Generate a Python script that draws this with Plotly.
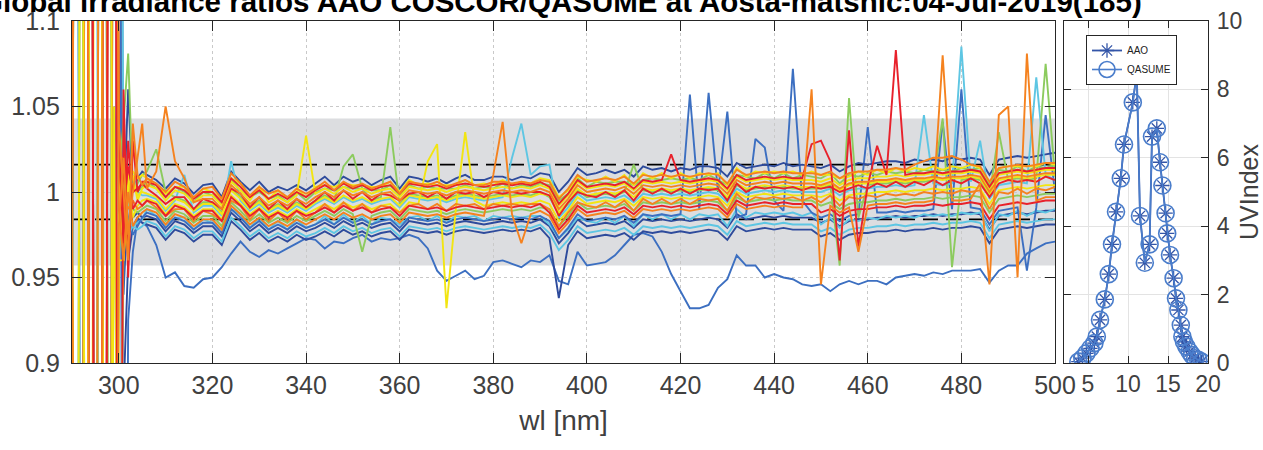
import plotly.graph_objects as go

# ---------------- data ----------------
# wavelength grid [nm]
WL = [290, 291, 292, 293, 294, 295, 296, 297, 298, 299, 300, 301, 302, 303, 304, 305,
      306, 308, 310, 312, 314, 316, 318, 320, 322, 324, 326, 328, 330, 332, 334, 336, 338, 340,
      342, 344, 346, 348, 350, 352, 354, 356, 358, 360, 362, 364, 366, 368, 370, 372, 374, 376,
      378, 380, 382, 384, 386, 388, 390,
      392, 394, 396, 398, 400, 402, 404, 406, 408, 410, 412, 414, 416, 418, 420, 422, 424, 426,
      428, 430, 432, 434, 436, 438, 440, 442, 444, 446, 448,
      450, 452, 454, 456, 458, 460, 462, 464, 466, 468, 470, 472, 474, 476, 478, 480, 482, 484,
      486, 488, 490, 492, 494, 496, 498, 500]

# ratio AAO/QASUME in per-mille (1000 = ratio 1.000), one list per spectrum
r01 = [952, 1600, 400, 400, 1600, 1600, 1600, 400, 400, 1600, 1010, 985, 1060, 1000, 1008, 1012,
       1010, 1007, 1002, 1008, 1005, 999, 1004, 1005, 997, 1012, 1006, 1001, 1006, 1000, 1003, 1001, 1004, 1001,
       1005, 1009, 1004, 1009, 1006, 1008, 1004, 1007, 1009, 1002, 1009, 1008, 1006, 1008, 1005, 1008, 1010, 1007,
       1007, 1009, 1009, 1007, 1009, 1008, 1011,
       1010, 1000, 1006, 1014, 1010, 1011, 1013, 1011, 1013, 1009, 1015, 1013, 1014, 1012, 1014, 1013, 1015, 1015,
       1014, 1009, 1017, 1014, 1015, 1016, 1015, 1017, 1015, 1016, 1015,
       1014, 1016, 1012, 1015, 1017, 1016, 1017, 1018, 1018, 1017, 1019, 1018, 1019, 1018, 1020, 1019, 1020, 1019,
       1010, 1019, 1020, 1021, 1020, 1021, 1022, 1023]
r02 = [975, 400, 400, 400, 400, 400, 1600, 1600, 1600, 1600, 1040, 1000, 960, 1040, 1010, 1004,
       1008, 1005, 1000, 1006, 1003, 997, 1002, 1003, 996, 1011, 1005, 998, 1003, 999, 1001, 997, 1002, 999,
       1002, 1006, 1001, 1006, 1003, 1005, 1002, 1004, 1006, 999, 1006, 1005, 1004, 1006, 1003, 1005, 1007, 1004,
       1004, 1006, 1006, 1005, 1006, 1005, 1007,
       1006, 996, 1002, 1010, 1006, 1007, 1008, 1007, 1009, 1005, 1010, 1009, 1010, 1009, 1010, 1009, 1010, 1011,
       1010, 1005, 1013, 1010, 1011, 1012, 1011, 1012, 1011, 1011, 1011,
       1010, 1012, 1008, 1011, 1012, 1012, 1013, 1013, 1014, 1013, 1016, 1018, 1020, 1020, 1021, 1019, 1016, 1015,
       1006, 1014, 1015, 1016, 1015, 1016, 1017, 1017]
r03 = [1010, 1600, 1600, 1600, 1600, 400, 400, 1600, 1600, 1600, 400, 1060, 950, 1030, 1000, 1006,
       1006, 1004, 997, 1003, 1001, 996, 1000, 1000, 994, 1008, 1003, 997, 1001, 996, 999, 996, 1000, 997,
       1001, 1004, 1001, 1005, 1002, 1004, 1001, 1003, 1004, 999, 1005, 1004, 1003, 1004, 1002, 1004, 1005, 1004,
       1003, 1004, 1005, 1004, 1005, 1004, 1006,
       1003, 993, 999, 1007, 1003, 1004, 1005, 1004, 1006, 1002, 1007, 1006, 1007, 1022, 1007, 1006, 1007, 1008,
       1007, 1002, 1010, 1007, 1008, 1009, 1008, 1009, 1008, 1008, 1028,
       1030, 1018, 960, 1036, 968, 1004, 1027, 1010, 1083, 1010, 1011, 1011, 1012, 1011, 1012, 1012, 1013, 1012,
       1003, 1011, 1012, 1013, 1012, 1013, 1014, 1014]
r04 = [960, 400, 1600, 400, 400, 400, 1600, 1600, 1600, 400, 1020, 960, 1000, 1010, 995, 1002,
       1004, 1002, 995, 1001, 999, 994, 998, 998, 992, 1006, 1001, 995, 1003, 994, 997, 994, 998, 1033,
       999, 1002, 999, 1003, 1000, 1002, 999, 1001, 1002, 997, 1003, 1002, 1001, 1002, 1000, 1002, 1003, 1002,
       1001, 1002, 1003, 1002, 1003, 1002, 1004,
       1002, 992, 998, 1006, 1002, 1003, 1004, 1003, 1005, 1001, 1006, 1005, 1006, 1005, 1006, 1005, 1006, 1007,
       1006, 1001, 1009, 1006, 1007, 1008, 1007, 1008, 1007, 1007, 1007,
       1006, 1008, 1004, 1007, 1008, 1008, 1009, 1009, 1010, 1009, 1010, 1010, 1011, 1010, 1011, 1011, 1012, 1011,
       1002, 1010, 1011, 1012, 1011, 1012, 1013, 1013]
r05 = [940, 1600, 1600, 1600, 400, 400, 400, 400, 400, 400, 980, 1020, 975, 1000, 1020, 1040,
       1002, 1012, 1050, 1018, 1008, 994, 996, 996, 990, 1004, 999, 993, 997, 992, 995, 992, 996, 993,
       997, 1000, 997, 1001, 998, 1000, 997, 999, 1000, 995, 1001, 1000, 999, 1000, 998, 1000, 1001, 1000,
       999, 1000, 1001, 1000, 1001, 1000, 1002,
       1000, 990, 996, 1004, 1000, 1001, 1002, 1001, 1003, 999, 1004, 1003, 1004, 1003, 1004, 1003, 1004, 1005,
       1004, 999, 1007, 1004, 1005, 1006, 1005, 1006, 1005, 1005, 1005,
       1004, 1006, 1002, 1005, 1006, 1006, 1007, 1007, 1008, 1007, 1008, 1008, 1009, 1008, 1009, 1009, 1010, 1009,
       1000, 1008, 1009, 1010, 1009, 1010, 1011, 1011]
r06 = [930, 400, 400, 1600, 1600, 1600, 1600, 400, 1600, 1600, 1010, 1040, 1081, 1000, 1005, 1010,
       1012, 1025, 1000, 997, 995, 990, 994, 994, 988, 1002, 997, 991, 995, 990, 993, 990, 994, 991,
       995, 998, 995, 1015, 1022, 1002, 995, 997, 1038, 993, 999, 998, 997, 998, 996, 998, 999, 998,
       997, 998, 999, 998, 999, 998, 1000,
       997, 987, 993, 1001, 997, 998, 999, 998, 1000, 1016, 1001, 1000, 1001, 1000, 1001, 1000, 1001, 1002,
       1001, 996, 1004, 1001, 1002, 1003, 1002, 1003, 1002, 1002, 1002,
       1002, 1004, 957, 1055, 985, 1004, 1005, 1005, 1006, 1005, 1006, 1006, 1007, 1043, 956, 1007, 1008, 1007,
       998, 1035, 1007, 1008, 1007, 1008, 1075, 1009]
r07 = [1043, 400, 1600, 1600, 1600, 1600, 400, 400, 400, 400, 1600, 1000, 990, 1010, 1000, 998,
       998, 996, 989, 995, 1010, 988, 992, 992, 986, 1018, 995, 989, 993, 988, 991, 988, 992, 989,
       993, 996, 993, 997, 994, 996, 993, 995, 996, 991, 997, 996, 995, 996, 994, 996, 997, 996,
       995, 996, 997, 1020, 1040, 1010, 1015,
       1016, 985, 991, 999, 995, 996, 997, 996, 998, 994, 999, 998, 999, 998, 999, 998, 999, 1000,
       999, 994, 1002, 999, 1000, 1001, 1000, 1001, 1000, 1000, 1000,
       1000, 1002, 998, 1001, 1002, 1002, 1003, 1003, 1004, 1003, 1004, 1045, 1005, 1004, 1005, 1085, 1006, 1030,
       996, 1004, 1005, 1006, 1005, 1067, 1010, 1007]
r08 = [970, 400, 400, 400, 1600, 1600, 1600, 400, 400, 400, 960, 960, 1010, 985, 992, 995,
       996, 994, 987, 993, 991, 986, 990, 990, 984, 998, 993, 987, 991, 986, 989, 986, 990, 987,
       990, 993, 990, 994, 991, 993, 990, 992, 993, 988, 994, 993, 1018, 1028, 932, 990, 1035, 995,
       992, 993, 994, 993, 994, 993, 995,
       993, 983, 989, 997, 993, 994, 995, 994, 996, 992, 997, 996, 997, 996, 997, 996, 997, 998,
       997, 992, 1000, 997, 998, 999, 998, 999, 998, 998, 998,
       997, 999, 995, 998, 999, 999, 1000, 1000, 1001, 1000, 1001, 1001, 1002, 1001, 1002, 1002, 1003, 1002,
       993, 1001, 1002, 1003, 1002, 1003, 1004, 1004]
r09 = [1000, 1600, 1600, 1600, 1600, 400, 400, 400, 1600, 1600, 1030, 970, 1030, 990, 995, 992,
       995, 993, 986, 992, 990, 985, 989, 989, 983, 997, 992, 986, 990, 985, 988, 985, 989, 986,
       988, 991, 988, 992, 989, 991, 988, 990, 991, 986, 992, 991, 990, 991, 989, 991, 992, 991,
       990, 991, 992, 991, 992, 991, 993,
       988, 978, 984, 992, 988, 989, 990, 989, 991, 987, 992, 991, 992, 991, 992, 991, 992, 993,
       992, 987, 995, 992, 993, 994, 993, 994, 993, 993, 993,
       988, 990, 986, 989, 990, 990, 991, 991, 992, 991, 992, 992, 993, 992, 993, 993, 994, 993,
       984, 992, 993, 994, 993, 994, 995, 995]
r10 = [925, 1600, 1600, 400, 1600, 1600, 1600, 1600, 1600, 400, 960, 1010, 980, 990, 988, 990,
       992, 990, 983, 989, 987, 982, 986, 986, 980, 994, 989, 983, 987, 982, 985, 982, 986, 983,
       986, 989, 986, 990, 987, 965, 986, 988, 989, 984, 990, 989, 988, 989, 987, 989, 990, 989,
       988, 989, 990, 989, 990, 989, 991,
       990, 980, 986, 994, 990, 991, 992, 991, 993, 989, 994, 993, 994, 993, 994, 993, 994, 995,
       994, 989, 997, 994, 995, 996, 995, 996, 995, 995, 995,
       992, 994, 990, 993, 994, 994, 995, 995, 996, 995, 996, 996, 997, 996, 997, 997, 998, 997,
       988, 996, 997, 998, 997, 998, 999, 999]
r11 = [985, 400, 400, 400, 400, 400, 400, 1600, 1600, 1600, 990, 960, 1000, 980, 985, 988,
       990, 988, 981, 987, 985, 980, 984, 984, 978, 992, 987, 981, 985, 980, 983, 980, 984, 981,
       984, 987, 984, 988, 985, 987, 984, 986, 987, 982, 988, 987, 986, 987, 985, 987, 988, 987,
       986, 1010, 1041, 987, 970, 987, 989,
       986, 976, 982, 990, 986, 987, 988, 987, 989, 985, 990, 989, 990, 989, 990, 989, 990, 991,
       990, 985, 993, 990, 991, 992, 991, 992, 991, 991, 1060,
       946, 992, 988, 991, 965, 992, 993, 993, 994, 993, 994, 994, 995, 1080, 995, 995, 996, 1005,
       946, 1045, 1050, 950, 1081, 995, 997, 997]
r12 = [900, 400, 400, 400, 1600, 1600, 1600, 1600, 400, 1050, 1000, 1000, 985, 975, 980, 985,
       988, 986, 979, 985, 983, 978, 982, 982, 976, 990, 985, 979, 983, 978, 981, 978, 982, 979,
       981, 984, 981, 985, 982, 984, 981, 983, 984, 979, 985, 984, 983, 984, 982, 984, 985, 984,
       983, 984, 985, 984, 985, 984, 986,
       983, 973, 979, 987, 983, 984, 985, 984, 986, 982, 987, 986, 987, 986, 987, 1057, 990, 1058,
       1000, 1047, 985, 987, 1031, 1026, 995, 989, 1072, 995, 988,
       985, 987, 983, 986, 987, 1038, 988, 988, 989, 988, 989, 989, 990, 1041, 990, 1060, 991, 990,
       981, 989, 990, 991, 954, 991, 1045, 1000]
r13 = [960, 400, 400, 1600, 1600, 400, 400, 400, 400, 400, 1600, 940, 1000, 985, 988, 985,
       986, 984, 977, 983, 981, 976, 980, 980, 974, 988, 983, 977, 981, 976, 979, 976, 980, 977,
       979, 982, 979, 983, 980, 982, 979, 981, 982, 977, 983, 982, 981, 982, 980, 982, 983, 982,
       981, 982, 983, 982, 983, 982, 984,
       980, 970, 976, 984, 980, 981, 982, 981, 983, 979, 984, 983, 984, 983, 984, 983, 984, 985,
       984, 979, 987, 984, 985, 986, 985, 986, 985, 985, 985,
       982, 984, 980, 983, 984, 984, 985, 985, 986, 985, 986, 986, 987, 986, 987, 987, 988, 987,
       978, 986, 987, 988, 987, 988, 989, 989]
r14 = [1020, 1600, 400, 400, 400, 400, 400, 1600, 400, 400, 990, 990, 975, 980, 978, 980,
       983, 981, 974, 980, 978, 973, 977, 977, 971, 985, 980, 974, 978, 973, 976, 973, 977, 974,
       976, 979, 976, 980, 977, 979, 976, 978, 979, 974, 980, 979, 978, 979, 977, 979, 980, 979,
       978, 979, 980, 979, 980, 979, 981,
       976, 966, 972, 980, 976, 977, 978, 977, 979, 975, 980, 979, 980, 979, 980, 979, 980, 981,
       980, 975, 983, 980, 981, 982, 981, 982, 981, 981, 981,
       977, 979, 975, 978, 979, 979, 980, 980, 981, 980, 981, 981, 982, 981, 982, 982, 983, 982,
       973, 981, 982, 983, 982, 983, 984, 984]
r15 = [950, 1600, 1600, 1600, 400, 400, 1600, 1600, 1600, 400, 700, 880, 960, 980, 985, 982,
       981, 979, 972, 978, 976, 971, 975, 975, 969, 983, 978, 972, 976, 971, 974, 971, 975, 972,
       974, 977, 974, 978, 975, 977, 974, 976, 977, 972, 978, 977, 976, 977, 975, 977, 978, 977,
       976, 977, 978, 977, 978, 977, 979,
       973, 938, 969, 977, 973, 974, 975, 974, 976, 972, 977, 976, 977, 976, 977, 976, 977, 978,
       977, 972, 980, 977, 978, 979, 978, 979, 978, 978, 978,
       974, 976, 972, 975, 976, 976, 977, 977, 978, 977, 978, 978, 979, 978, 979, 979, 980, 979,
       970, 978, 979, 980, 979, 980, 981, 981]
r16 = [990, 400, 400, 400, 400, 1600, 1600, 400, 400, 1050, 700, 980, 1000, 1005, 998, 1000,
       999, 997, 990, 996, 994, 989, 993, 993, 987, 1001, 996, 990, 994, 989, 992, 989, 993, 990,
       994, 997, 994, 998, 995, 997, 994, 996, 997, 992, 998, 997, 996, 997, 995, 997, 998, 997,
       996, 997, 998, 997, 998, 997, 999,
       998, 988, 994, 1002, 998, 999, 1000, 999, 1001, 997, 1002, 1001, 1002, 1001, 1002, 1001, 1002, 1003,
       1002, 997, 1005, 1002, 1003, 1004, 1003, 1004, 1003, 1003, 1003,
       1003, 1005, 1001, 1004, 1005, 1005, 1006, 1006, 1007, 1006, 1007, 1007, 1008, 1007, 1008, 1008, 1009, 1008,
       999, 1007, 1008, 1009, 1008, 1009, 1010, 1010]
r17 = [940, 1600, 1600, 400, 400, 400, 1600, 1600, 1600, 1600, 1600, 400, 925, 965, 984, 982,
       980, 969, 950, 953, 945, 944, 949, 950, 956, 964, 971, 965, 962, 966, 964, 967, 970, 973,
       972, 967, 971, 970, 973, 975, 971, 973, 972, 973, 975, 973, 967, 954, 948, 951, 954, 949,
       951, 959, 960, 958, 956, 960, 959,
       963, 948, 946, 965, 957, 958, 959, 963, 969, 975, 976, 974, 965, 952, 942, 932, 932, 934,
       944, 949, 963, 957, 957, 950, 952, 950, 949, 946, 945,
       946, 942, 946, 948, 946, 948, 948, 946, 950, 951, 952, 951, 953, 952, 954, 954, 954, 955,
       947, 954, 957, 957, 964, 967, 970, 971]
r18 = [960, 400, 1600, 1600, 1600, 400, 400, 400, 400, 1600, 1030, 1010, 1010, 1005, 1000, 1003,
       1006, 1002, 997, 1003, 1000, 994, 1000, 998, 993, 1007, 1001, 997, 1000, 996, 998, 994, 1000, 995,
       1000, 1002, 1001, 1003, 1002, 1002, 1001, 1001, 1004, 998, 1004, 1002, 1003, 1002, 1002, 1002, 1004, 1002,
       1003, 1002, 1005, 1002, 1004, 1003, 1005,
       1004, 995, 999, 1008, 1003, 1006, 1005, 1006, 1006, 1004, 1007, 1008, 1007, 1008, 1007, 1008, 1007, 1010,
       1007, 1004, 1010, 1009, 1008, 1011, 1008, 1011, 1008, 1010, 1009,
       1008, 1011, 1005, 1010, 1009, 1011, 1010, 1012, 1011, 1012, 1011, 1013, 1012, 1013, 1012, 1014, 1013, 1014,
       1004, 1013, 1012, 1015, 1012, 1015, 1014, 1016]
r19 = [1005, 1600, 1600, 1600, 400, 400, 400, 400, 1600, 1600, 1015, 990, 1015, 1000, 1002, 1005,
       1002, 998, 993, 997, 997, 990, 996, 994, 990, 1002, 999, 991, 997, 990, 995, 990, 996, 991,
       995, 1000, 995, 1001, 996, 1000, 995, 999, 998, 995, 999, 1000, 997, 1000, 996, 1000, 999, 1000,
       997, 1000, 999, 1000, 999, 1000, 1000,
       998, 986, 994, 1000, 998, 997, 1000, 997, 1001, 995, 1002, 999, 1002, 999, 1002, 999, 1002, 1001,
       1002, 995, 1005, 1000, 1003, 1002, 1003, 1002, 1003, 1001, 1003,
       1002, 1003, 1000, 1002, 1004, 1002, 1005, 1003, 1006, 1003, 1006, 1004, 1007, 1004, 1007, 1005, 1008, 1005,
       997, 1005, 1007, 1006, 1007, 1006, 1009, 1007]
r20 = [945, 400, 400, 1600, 1600, 1600, 1600, 400, 400, 1600, 1000, 1000, 990, 995, 990, 992,
       995, 991, 986, 990, 990, 983, 989, 987, 983, 995, 992, 984, 990, 983, 988, 983, 989, 984,
       988, 993, 988, 994, 989, 993, 988, 992, 991, 988, 992, 993, 990, 993, 989, 993, 992, 993,
       990, 993, 992, 993, 992, 993, 993,
       990, 980, 988, 994, 992, 991, 994, 991, 995, 989, 996, 993, 996, 993, 996, 993, 996, 995,
       996, 989, 999, 994, 997, 996, 997, 996, 997, 995, 997,
       994, 998, 992, 997, 996, 998, 997, 999, 998, 999, 998, 1000, 999, 1000, 999, 1001, 1000, 1001,
       990, 1000, 999, 1002, 999, 1002, 1001, 1003]
r21 = [1030, 1600, 400, 400, 400, 400, 1600, 1600, 1600, 1600, 400, 975, 985, 980, 982, 984,
       990, 986, 981, 985, 985, 978, 984, 982, 978, 990, 987, 979, 985, 978, 983, 978, 984, 979,
       981, 986, 981, 987, 982, 986, 981, 985, 984, 981, 985, 986, 983, 986, 982, 986, 985, 986,
       983, 986, 985, 986, 985, 986, 986,
       981, 973, 978, 985, 983, 982, 985, 982, 986, 980, 987, 984, 987, 984, 987, 984, 987, 986,
       987, 980, 990, 985, 988, 987, 988, 987, 988, 986, 988,
       981, 985, 979, 984, 983, 985, 984, 986, 985, 986, 985, 987, 986, 987, 986, 988, 987, 988,
       977, 987, 986, 989, 986, 989, 988, 990]
r22 = [980, 400, 400, 400, 1600, 1600, 1600, 1600, 400, 400, 1020, 1020, 1010, 1012, 1008, 1010,
       1008, 1004, 999, 1003, 1003, 996, 1002, 1000, 996, 1008, 1005, 997, 1003, 996, 1001, 996, 1002, 997,
       1003, 1004, 1003, 1005, 1004, 1004, 1003, 1003, 1006, 1000, 1007, 1004, 1005, 1004, 1004, 1004, 1007, 1004,
       1005, 1004, 1007, 1004, 1006, 1005, 1008,
       1007, 997, 1001, 1009, 1007, 1006, 1009, 1006, 1010, 1004, 1011, 1008, 1011, 1008, 1011, 1008, 1011, 1010,
       1011, 1004, 1014, 1009, 1012, 1011, 1012, 1011, 1012, 1010, 1012,
       1010, 1010, 1008, 1009, 1012, 1010, 1013, 1011, 1014, 1012, 1014, 1013, 1015, 1013, 1015, 1014, 1016, 1014,
       1006, 1014, 1015, 1015, 1015, 1015, 1017, 1016]

# colours of the spectra (drawing order)
DKB, MB, CY, GR, YE, OR, RD = '#2e4b9c', '#3c6fc1', '#5ec6e3', '#8ccb5e', '#f2e512', '#f5821f', '#e8212b'
spectra = [(r17, MB), (r15, DKB), (r13, DKB), (r21, CY), (r12, MB), (r01, DKB), (r14, CY), (r07, CY),
           (r10, GR), (r06, GR), (r18, GR), (r08, YE), (r20, OR), (r16, YE), (r04, YE), (r22, YE),
           (r09, RD), (r19, RD), (r03, RD), (r11, OR), (r05, OR), (r02, OR)]

band_limits = [0.957, 1.043]
dash_levels = [1.016, 0.984]
x_ticks = [300, 320, 340, 360, 380, 400, 420, 440, 460, 480, 500]
y_ticks = [0.9, 0.95, 1.0, 1.05, 1.1]
y_ticklabels = ['0.9', '0.95', '1', '1.05', '1.1']

# UV index time series
hours = [3.8, 4.3, 4.8, 5.3, 5.8, 6.1, 6.5, 7.1, 7.6, 8.0, 8.5, 9.1, 9.5, 10.6, 11.1, 11.5, 12.1,
         12.7, 13.0, 13.6, 14.0, 14.3, 14.7, 14.9, 15.25, 15.7, 16.0, 16.3, 16.6, 16.8, 17.0, 17.3,
         17.7, 18.0, 18.4, 18.8, 19.2]
uvi_aao = [0.04, 0.14, 0.28, 0.43, 0.58, 0.77, 1.26, 1.86, 2.60, 3.47, 4.42, 5.40, 6.39, 7.62, 8.49,
           4.30, 2.93, 3.47, 6.62, 6.86, 5.87, 5.19, 4.38, 3.79, 3.16, 2.48, 1.89, 1.55, 1.11, 0.77,
           0.62, 0.48, 0.33, 0.23, 0.14, 0.09, 0.04]
uvi_qasume = [0.04, 0.14, 0.28, 0.43, 0.58, 0.77, 1.26, 1.86, 2.60, 3.47, 4.42, 5.40, 6.39, 7.62, 8.49,
              4.30, 2.93, 3.47, 6.62, 6.86, 5.87, 5.19, 4.38, 3.79, 3.16, 2.48, 1.89, 1.55, 1.11, 0.77,
              0.62, 0.48, 0.33, 0.23, 0.14, 0.09, 0.04]

TITLE = 'Global irradiance ratios AAO COSCOR/QASUME at Aosta-matsnic:04-Jul-2019(185)'

# ---------------- figure ----------------
FONT = 'Liberation Sans, Arial, Helvetica, sans-serif'
AX = '#262626'
TXT = '#404040'

fig = go.Figure()

for lvl in dash_levels:
    fig.add_trace(go.Scatter(x=[WL[0], WL[-1]], y=[lvl, lvl], mode='lines',
                             line=dict(color='black', width=1.6, dash='15px,8px'),
                             showlegend=False, hoverinfo='skip', xaxis='x', yaxis='y'))

for vals, col in spectra:
    fig.add_trace(go.Scatter(x=WL, y=[v / 1000 for v in vals], mode='lines',
                             line=dict(color=col, width=1.9, simplify=False), showlegend=False,
                             xaxis='x', yaxis='y'))

fig.add_trace(go.Scatter(x=hours, y=uvi_aao, mode='lines+markers', name='AAO',
                         line=dict(color='#3355a8', width=1.8),
                         marker=dict(symbol='asterisk-open', size=12,
                                     line=dict(color='#3355a8', width=1.3)),
                         xaxis='x2', yaxis='y2'))
fig.add_trace(go.Scatter(x=hours, y=uvi_qasume, mode='lines+markers', name='QASUME',
                         line=dict(color='#4a7dcb', width=1.6),
                         marker=dict(symbol='circle-open', size=17,
                                     line=dict(color='#4a7dcb', width=1.6)),
                         xaxis='x2', yaxis='y2'))

fig.add_shape(type='rect', xref='x', yref='y', x0=WL[0], x1=WL[-1],
              y0=band_limits[0], y1=band_limits[1],
              fillcolor='#dcdde0', line=dict(width=0), layer='below')

W, H = 1263, 450
ML, MR, MT, MB_ = 72, 55, 21, 87
pw = W - ML - MR
ph = H - MT - MB_

axis_common = dict(showline=True, linecolor=AX, linewidth=1.2, mirror='ticks',
                   ticks='inside', tickcolor=AX, tickwidth=1.2, zeroline=False, automargin=False)

fig.update_layout(
    width=W, height=H,
    margin=dict(l=ML, r=MR, t=MT, b=MB_),
    paper_bgcolor='white', plot_bgcolor='white',
    font=dict(family=FONT, color=TXT),
    xaxis=dict(domain=[0, (1055 - ML) / pw], range=[290, 500], tickvals=x_ticks,
               ticklen=10, showgrid=True, gridcolor='#c9c9c9', griddash='dot', gridwidth=1,
               tickfont=dict(family=FONT, size=25, color=TXT), ticklabelstandoff=0,
               title=dict(text='wl [nm]', font=dict(family=FONT, size=28, color=TXT), standoff=12),
               **axis_common),
    yaxis=dict(domain=[0, 1], range=[0.9, 1.1], tickvals=y_ticks, ticktext=y_ticklabels,
               ticklen=10, showgrid=True, gridcolor='#c9c9c9', griddash='dot', gridwidth=1,
               tickfont=dict(family=FONT, size=25, color=TXT), ticklabelstandoff=6,
               **axis_common),
    xaxis2=dict(domain=[(1064 - ML) / pw, 1], range=[2, 20], tickvals=[5, 10, 15, 20],
                anchor='y2', ticklen=7, showgrid=True, gridcolor='#e3e3e3', gridwidth=1,
                tickfont=dict(family=FONT, size=23, color=TXT), ticklabelstandoff=0,
                **axis_common),
    yaxis2=dict(domain=[0, 1], range=[0, 10], tickvals=[0, 2, 4, 6, 8, 10], anchor='x2',
                side='right', ticklen=7, showgrid=True, gridcolor='#e3e3e3', gridwidth=1,
                tickfont=dict(family=FONT, size=23, color=TXT), ticklabelstandoff=3,
                title=dict(text='UVIndex', font=dict(family=FONT, size=25, color=TXT), standoff=4),
                **axis_common),
    showlegend=True,
    legend=dict(x=(1086 - ML) / pw, y=1 - (35 - MT) / ph, xanchor='left', yanchor='top',
                bgcolor='white', bordercolor=AX, borderwidth=1,
                font=dict(family=FONT, size=10, color='#222222'),
                itemwidth=30, tracegroupgap=0),
    annotations=[dict(text='<b>' + TITLE + '</b>', xref='paper', yref='paper',
                      x=(561 - ML) / pw, y=1 + (MT - 1) / ph, xanchor='center', yanchor='middle',
                      showarrow=False, font=dict(family=FONT, size=29.5, color='black'))],
)

fig.write_html('out.html')
